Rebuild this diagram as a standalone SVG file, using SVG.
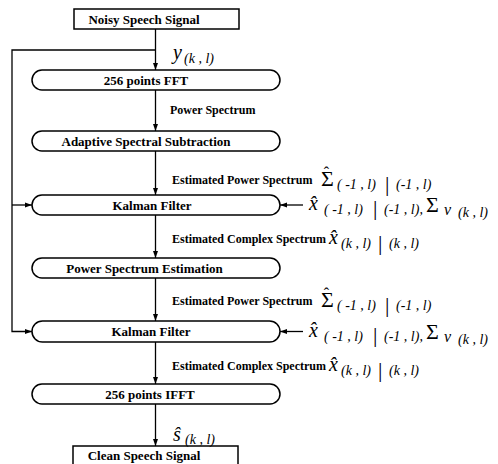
<svg xmlns="http://www.w3.org/2000/svg" width="498" height="464" viewBox="0 0 498 464">
<defs>
<marker id="ah" markerWidth="8" markerHeight="8" refX="7" refY="4" orient="auto" markerUnits="userSpaceOnUse">
<path d="M0,1.5 L7,4 L0,6.5 Z" fill="#000"/>
</marker>
</defs>
<style>
.box{fill:#fff;stroke:#000;stroke-width:1.5}
.nt{font-family:"Liberation Serif","Times New Roman",serif;font-weight:bold;font-size:13px;text-anchor:middle}
.lb{font-family:"Liberation Serif","Times New Roman",serif;font-weight:bold;font-size:12px}
.mi{font-family:"Liberation Serif","Times New Roman",serif;font-style:italic}
.mr{font-family:"Liberation Serif","Times New Roman",serif}
.c{fill:none;stroke:#000;stroke-width:1.3}
</style>
<rect width="498" height="464" fill="#fff"/>
<g id="connectors">
<line class="c" x1="155.5" y1="29" x2="155.5" y2="70" marker-end="url(#ah)"/>
<line class="c" x1="155.5" y1="90" x2="155.5" y2="131" marker-end="url(#ah)"/>
<line class="c" x1="155.5" y1="151" x2="155.5" y2="195" marker-end="url(#ah)"/>
<line class="c" x1="155.5" y1="215" x2="155.5" y2="258" marker-end="url(#ah)"/>
<line class="c" x1="155.5" y1="278" x2="155.5" y2="321" marker-end="url(#ah)"/>
<line class="c" x1="155.5" y1="342" x2="155.5" y2="384" marker-end="url(#ah)"/>
<line class="c" x1="155.5" y1="404" x2="155.5" y2="446" marker-end="url(#ah)"/>
<polyline class="c" points="155.5,50 12,50 12,331.5 32,331.5" marker-end="url(#ah)"/>
<line class="c" x1="12" y1="205" x2="32" y2="205" marker-end="url(#ah)"/>
<line class="c" x1="303" y1="205" x2="280" y2="205" marker-end="url(#ah)"/>
<line class="c" x1="303" y1="331.5" x2="280" y2="331.5" marker-end="url(#ah)"/>
</g>
<g id="noisy">
<rect class="box" x="74" y="9" width="165" height="20"/>
<text class="nt" x="144" y="23.5">Noisy Speech Signal</text>
</g>
<g id="fft">
<rect class="box" x="32" y="70" width="248" height="20" rx="10"/>
<text class="nt" x="146" y="84.5">256 points FFT</text>
</g>
<g id="adaptive">
<rect class="box" x="32" y="131" width="248" height="20" rx="10"/>
<text class="nt" x="146" y="145.5">Adaptive Spectral Subtraction</text>
</g>
<g id="kalman1">
<rect class="box" x="32" y="195" width="248" height="20" rx="10"/>
<text class="nt" x="152" y="209.5">Kalman Filter</text>
</g>
<g id="pse">
<rect class="box" x="32" y="258" width="248" height="20" rx="10"/>
<text class="nt" x="144.5" y="272.5">Power Spectrum Estimation</text>
</g>
<g id="kalman2">
<rect class="box" x="32" y="321" width="248" height="21" rx="10.5"/>
<text class="nt" x="151" y="336">Kalman Filter</text>
</g>
<g id="ifft">
<rect class="box" x="32" y="384" width="248" height="20" rx="10"/>
<text class="nt" x="150" y="398.5">256 points IFFT</text>
</g>
<g id="clean">
<rect class="box" x="73" y="446" width="165" height="30"/>
<text class="nt" x="144" y="460">Clean Speech Signal</text>
</g>
<g id="labels">
<text class="mi" x="173" y="59" font-size="20">y</text>
<text class="mi" x="184" y="63" font-size="14">(k , l)</text>
<text class="lb" x="170" y="114">Power Spectrum</text>
<!-- est power 1 -->
<text class="lb" x="172" y="184">Estimated Power Spectrum</text>
<text class="mr" x="321" y="186" font-size="22">Σ<tspan dx="-10" dy="-8" font-size="16">ˆ</tspan></text>
<text class="mi" x="337" y="189" font-size="14">( -1 , l)</text>
<text class="mr" x="385" y="191" font-size="22">|</text>
<text class="mi" x="396" y="189" font-size="14">(-1 , l)</text>
<!-- kalman1 right -->
<text class="mi" x="309" y="210" font-size="20">x̂</text>
<text class="mi" x="324" y="214" font-size="14">( -1 , l)</text>
<text class="mr" x="373" y="215" font-size="22">|</text>
<text class="mi" x="384" y="214" font-size="14">(-1 , l),</text>
<text class="mr" x="426" y="212" font-size="22">Σ</text>
<text class="mi" x="444" y="215" font-size="16">v</text>
<text class="mi" x="458" y="217" font-size="14">(k , l)</text>
<!-- est complex 1 -->
<text class="lb" x="172" y="243">Estimated Complex Spectrum</text>
<text class="mi" x="329" y="244" font-size="20">x̂</text>
<text class="mi" x="341" y="248" font-size="14">(k , l)</text>
<text class="mr" x="378" y="250" font-size="22">|</text>
<text class="mi" x="389" y="248" font-size="14">(k , l)</text>
<!-- est power 2 -->
<text class="lb" x="172" y="305">Estimated Power Spectrum</text>
<text class="mr" x="321" y="307" font-size="22">Σ<tspan dx="-10" dy="-8" font-size="16">ˆ</tspan></text>
<text class="mi" x="337" y="310" font-size="14">( -1 , l)</text>
<text class="mr" x="385" y="312" font-size="22">|</text>
<text class="mi" x="396" y="310" font-size="14">(-1 , l)</text>
<!-- kalman2 right -->
<text class="mi" x="309" y="336.5" font-size="20">x̂</text>
<text class="mi" x="324" y="340.5" font-size="14">( -1 , l)</text>
<text class="mr" x="373" y="341.5" font-size="22">|</text>
<text class="mi" x="384" y="340.5" font-size="14">(-1 , l),</text>
<text class="mr" x="426" y="338.5" font-size="22">Σ</text>
<text class="mi" x="444" y="341.5" font-size="16">v</text>
<text class="mi" x="458" y="343.5" font-size="14">(k , l)</text>
<!-- est complex 2 -->
<text class="lb" x="172" y="370">Estimated Complex Spectrum</text>
<text class="mi" x="329" y="371" font-size="20">x̂</text>
<text class="mi" x="341" y="375" font-size="14">(k , l)</text>
<text class="mr" x="378" y="377" font-size="22">|</text>
<text class="mi" x="389" y="375" font-size="14">(k , l)</text>
<!-- s hat -->
<text class="mi" x="173" y="441" font-size="20">ŝ</text>
<text class="mi" x="185" y="444" font-size="14">(k , l)</text>
</g>
</svg>
